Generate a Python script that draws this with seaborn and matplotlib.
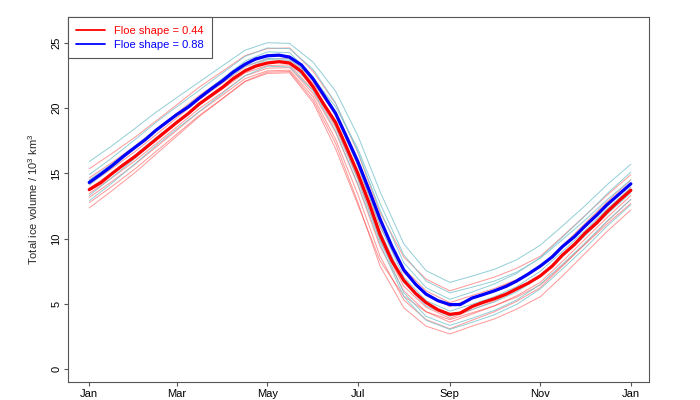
import numpy as np
import pandas as pd
import matplotlib
matplotlib.use('Agg')
import matplotlib.pyplot as plt
import seaborn as sns
from matplotlib.lines import Line2D

# day of year for the ensemble means (finer sampling)
days_mean = [0, 8, 15, 23, 31, 38, 45, 52, 59, 67, 74, 82, 90, 97, 105, 112, 120, 128, 135,
             143, 151, 158, 166, 173, 181, 189, 196, 204, 212, 220, 227, 235, 243, 250, 258,
             265, 273, 281, 288, 296, 304, 312, 319, 327, 334, 342, 349, 357, 365]

mean_044 = [13.75, 14.3, 14.95, 15.65, 16.3, 16.95, 17.6, 18.25, 18.9, 19.6, 20.3, 20.95, 21.6,
            22.25, 22.85, 23.2, 23.45, 23.55, 23.45, 22.8, 21.6, 20.3, 18.9, 17.1, 15.0, 12.6,
            10.3, 8.3, 6.8, 5.8, 5.1, 4.55, 4.2, 4.3, 4.8, 5.1, 5.4, 5.75, 6.15, 6.6, 7.15,
            7.9, 8.75, 9.55, 10.4, 11.2, 12.05, 12.9, 13.7]
mean_088 = [14.3, 14.95, 15.55, 16.3, 17.0, 17.6, 18.3, 18.9, 19.5, 20.1, 20.75, 21.45, 22.1,
            22.75, 23.35, 23.75, 24.0, 24.05, 23.9, 23.3, 22.2, 21.0, 19.6, 17.9, 15.9, 13.6,
            11.5, 9.4, 7.6, 6.5, 5.75, 5.25, 4.95, 4.95, 5.45, 5.7, 6.0, 6.35, 6.75, 7.3, 7.9,
            8.6, 9.4, 10.15, 10.95, 11.8, 12.6, 13.4, 14.2]

# day of year for the individual members
days = [0, 15, 31, 45, 59, 74, 90, 105, 120, 135, 151, 166, 181,
        196, 212, 227, 243, 258, 273, 288, 304, 319, 334, 349, 365]

# individual members, floe shape 0.44
red_1 = [15.35, 16.49, 17.78, 19.01, 20.25, 21.59, 22.83, 24.01, 24.55, 24.6, 22.8, 20.35, 16.6,
         12.0, 8.6, 6.9, 6.0, 6.53, 7.05, 7.73, 8.65, 10.18, 11.75, 13.33, 14.9]
red_2 = [14.65, 15.8, 17.1, 18.35, 19.6, 20.95, 22.2, 23.4, 23.95, 24.0, 22.1, 19.45, 15.6,
         10.9, 7.4, 5.7, 4.8, 5.43, 6.05, 6.83, 7.85, 9.48, 11.15, 12.83, 14.5]
red_3 = [14.15, 15.34, 16.68, 17.96, 19.25, 20.64, 21.93, 23.16, 23.75, 23.8, 21.9, 19.5, 15.8,
         11.2, 7.7, 6.0, 5.1, 5.64, 6.18, 6.86, 7.8, 9.34, 10.93, 12.51, 14.1]
red_4 = [13.85, 15.01, 16.33, 17.59, 18.85, 20.21, 21.47, 22.69, 23.25, 23.3, 21.35, 18.52, 14.55,
         9.85, 6.35, 4.75, 3.9, 4.56, 5.22, 6.04, 7.1, 8.76, 10.48, 12.19, 13.9]
red_5 = [13.45, 14.64, 15.97, 17.26, 18.55, 19.94, 21.22, 22.46, 23.05, 23.1, 21.1, 18.15, 14.1,
         9.4, 6.0, 4.4, 3.6, 4.22, 4.85, 5.62, 6.65, 8.27, 9.95, 11.62, 13.3]
red_6 = [13.15, 14.35, 15.7, 17.0, 18.3, 19.7, 21.0, 22.25, 22.85, 22.9, 20.85, 17.62, 13.4,
         8.65, 5.3, 3.8, 3.1, 3.75, 4.4, 5.2, 6.25, 7.9, 9.6, 11.3, 13.0]
red_7 = [12.75, 13.97, 15.35, 16.67, 18.0, 19.42, 20.75, 22.02, 22.65, 22.7, 20.4, 16.9, 12.6,
         8.3, 5.6, 4.4, 3.8, 4.32, 4.85, 5.52, 6.45, 7.97, 9.55, 11.12, 12.7]
red_8 = [12.35, 13.64, 15.07, 16.46, 17.85, 19.34, 20.72, 22.06, 22.75, 22.8, 20.6, 17.3, 12.8,
         7.9, 4.7, 3.3, 2.7, 3.3, 3.85, 4.6, 5.55, 7.15, 8.85, 10.55, 12.2]

# individual members, floe shape 0.88
cyan_1 = [15.9, 17.08, 18.45, 19.68, 20.8, 21.98, 23.25, 24.43, 25.0, 24.95, 23.5, 21.3, 17.9,
          13.6, 9.6, 7.55, 6.65, 7.13, 7.65, 8.38, 9.5, 10.98, 12.5, 14.13, 15.7]
cyan_2 = [14.9, 16.15, 17.6, 18.9, 20.1, 21.35, 22.7, 23.95, 24.6, 24.55, 22.95, 20.4, 16.7,
          12.2, 8.15, 6.25, 5.35, 5.91, 6.53, 7.34, 8.55, 10.11, 11.73, 13.44, 15.1]
cyan_3 = [14.5, 15.7, 17.1, 18.35, 19.5, 20.7, 22.0, 23.2, 23.8, 23.75, 22.3, 20.1, 16.9,
          12.7, 8.75, 6.75, 5.85, 6.28, 6.75, 7.43, 8.5, 9.93, 11.4, 12.98, 14.5]
cyan_4 = [14.1, 15.41, 16.92, 18.29, 19.55, 20.86, 22.28, 23.59, 24.3, 24.25, 22.4, 19.5, 15.6,
          11.0, 7.05, 5.25, 4.45, 4.97, 5.55, 6.32, 7.5, 9.02, 10.6, 12.27, 13.9]
cyan_5 = [13.7, 14.96, 16.42, 17.74, 18.95, 20.21, 21.57, 22.84, 23.5, 23.45, 21.65, 18.9, 15.05,
          10.6, 6.65, 4.85, 4.05, 4.57, 5.15, 5.92, 7.1, 8.62, 10.2, 11.87, 13.5]
cyan_6 = [13.3, 14.64, 16.17, 17.56, 18.85, 20.19, 21.62, 22.96, 23.7, 23.65, 21.7, 18.65, 14.6,
          9.9, 5.85, 4.05, 3.35, 3.9, 4.5, 5.3, 6.5, 8.05, 9.65, 11.35, 13.0]
cyan_7 = [12.9, 14.22, 15.75, 17.12, 18.4, 19.72, 21.15, 22.47, 23.2, 23.15, 21.3, 18.25, 14.2,
          9.6, 5.55, 3.75, 3.05, 3.59, 4.17, 4.96, 6.15, 7.69, 9.27, 10.96, 12.6]

red_members = [red_1, red_2, red_3, red_4, red_5, red_6, red_7, red_8]
cyan_members = [cyan_1, cyan_2, cyan_3, cyan_4, cyan_5, cyan_6, cyan_7]

month_ticks = [0, 59, 120, 181, 243, 304, 365]
month_labels = ['Jan', 'Mar', 'May', 'Jul', 'Sep', 'Nov', 'Jan']

sns.set_style('white')
plt.rcParams['font.family'] = ['Liberation Sans', 'DejaVu Sans']
plt.rcParams['mathtext.default'] = 'regular'

fig = plt.figure(figsize=(7, 4), dpi=100)
ax = fig.add_axes([0.0967, 0.0443, 0.831, 0.9125])

for m in red_members:
    sns.lineplot(x=days, y=m, ax=ax, color='#ff3030', alpha=0.5, lw=0.7)
for m in cyan_members:
    sns.lineplot(x=days, y=m, ax=ax, color='#7fc6d0', alpha=0.85, lw=0.7)

sns.lineplot(x=days_mean, y=mean_044, ax=ax, color='red', lw=2.3)
sns.lineplot(x=days_mean, y=mean_088, ax=ax, color='blue', lw=2.3)

ax.set_xlim(-14.5, 377.5)
ax.set_ylim(-1.0, 26.95)
ax.set_xticks(month_ticks)
ax.set_xticklabels(month_labels)
ax.set_yticks([0, 5, 10, 15, 20, 25])
ax.tick_params(axis='both', direction='out', length=2.6, width=0.8, colors='#555555',
               labelcolor='black', labelsize=8, left=True, bottom=True, pad=2.5)
ax.tick_params(axis='y', labelrotation=90, pad=2)
for lab in ax.get_yticklabels():
    lab.set_verticalalignment('center')
for s in ax.spines.values():
    s.set_color('#555555')
    s.set_linewidth(0.8)
ax.set_xlabel('')
ax.set_ylabel('Total ice volume / $10^3$ km$^3$', fontsize=8, labelpad=8)

handles = [Line2D([0], [0], color='red', lw=1.3), Line2D([0], [0], color='blue', lw=1.3)]
leg = ax.legend(handles, ['Floe shape = 0.44', 'Floe shape = 0.88'], loc='upper left',
                bbox_to_anchor=(0, 1), borderaxespad=0, fancybox=False, framealpha=1,
                edgecolor='#555555', fontsize=8, handlelength=2.6, labelspacing=0.35,
                borderpad=0.75, handletextpad=0.8)
leg.get_frame().set_linewidth(0.8)
for txt, c in zip(leg.get_texts(), ['red', 'blue']):
    txt.set_color(c)

fig.savefig('out.png', dpi=100)
